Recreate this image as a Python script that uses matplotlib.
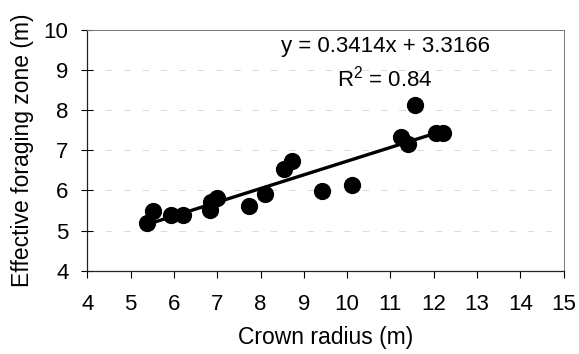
import numpy as np
import matplotlib.pyplot as plt

# crown radius (m) vs effective foraging zone (m)
crown_radius = [5.39, 5.51, 5.93, 6.20, 6.83, 6.85, 6.99, 7.73, 8.10, 8.55,
                8.73, 9.43, 10.12, 11.24, 11.40, 11.56, 12.05, 12.22]
foraging_zone = [5.19, 5.50, 5.40, 5.40, 5.52, 5.71, 5.82, 5.61, 5.90, 6.53,
                 6.73, 5.98, 6.13, 7.33, 7.15, 8.14, 7.44, 7.44]
slope = 0.3414
intercept = 3.3166
r_squared = 0.84
x_ticks = list(range(4, 16))
y_ticks = list(range(4, 11))

plt.rcParams['font.family'] = ['Liberation Sans', 'DejaVu Sans']
plt.rcParams['mathtext.fontset'] = 'custom'
plt.rcParams['mathtext.rm'] = 'Liberation Sans'

fig = plt.figure(figsize=(5.79, 3.54), dpi=100)
ax = fig.add_axes([0.1508, 0.2353, 0.8226, 0.68])

ax.set_xlim(4, 15)
ax.set_ylim(4, 10)
ax.set_xticks(x_ticks)
ax.set_yticks(y_ticks)

# faint dashed grid like the scanned original
for yv in y_ticks[1:-1]:
    ax.axhline(yv, color='#d6d6d6', lw=0.6, ls=(0, (8, 14)), zorder=0)

ax.scatter(crown_radius, foraging_zone, s=130, color='black', zorder=3)

xs = np.array([min(crown_radius), max(crown_radius)])
ax.plot(xs, slope * xs + intercept, color='black', lw=2.4, zorder=2)

ax.text(10.88, 9.455, f'y = {slope}x + {intercept}', ha='center', va='baseline', fontsize=16)
ax.text(10.88, 8.6, f'R$^{{2}}$ = {r_squared}', ha='center', va='baseline', fontsize=16)

ax.set_xlabel('Crown radius (m)', fontsize=16.5, labelpad=8)
ax.set_ylabel('Effective foraging zone (m)', fontsize=16.5, labelpad=7)

ax.tick_params(axis='x', direction='out', length=5, width=0.8, labelsize=16, pad=12)
ax.tick_params(axis='y', direction='inout', length=9, width=0.8, labelsize=16, pad=9)

for side in ['left', 'bottom']:
    ax.spines[side].set_color('#222222')
    ax.spines[side].set_linewidth(0.9)
for side in ['top', 'right']:
    ax.spines[side].set_color('#777777')
    ax.spines[side].set_linewidth(0.7)

fig.savefig('out.png', dpi=100)
